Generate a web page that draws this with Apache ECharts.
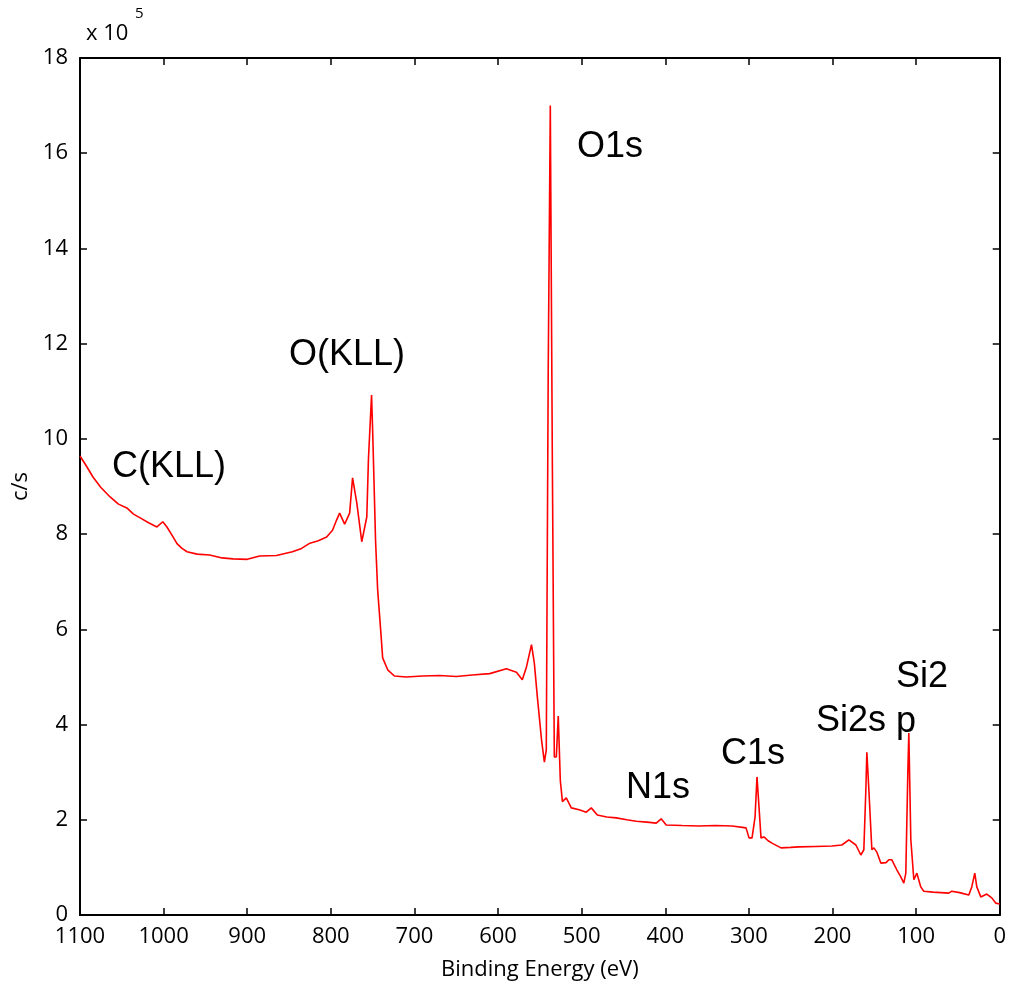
<!DOCTYPE html>
<html><head><meta charset="utf-8">
<script src="https://cdn.jsdelivr.net/npm/echarts@6/dist/echarts.min.js"></script>
<style>html,body{margin:0;padding:0;background:#fff}#c{width:1009px;height:990px}</style>
</head><body><div id="c"></div>
<script>
// Binding energy (eV)
var energy = [1100,1092,1084.5,1075,1064,1054,1044,1036,1028,1018,1008,1001,996,990,984,978,972,960,945,930,917,900,885,865,846,835,825,815,805,798,793,789.5,783.5,777.5,774,769,763,757,755,751.3,750,746.5,744,740.5,738,732,724,710,690,670,650,631,610,590,578,571,566,560,556.6,553,548,544.6,542.3,540,537.5,535,532.7,530.3,528,525.5,523,518.4,512.4,503,494.5,488.5,481.3,470,458.6,446,434.7,422,410.8,404.9,398.9,380,359.5,340,320,303.4,299.8,296.2,292.6,290.3,287.9,285.5,281.9,277,272.4,261.6,250,240,220,200.7,188.8,180.4,172,166.1,162.5,160.1,158.9,156.5,152.9,150.5,146.9,142.2,136,132.6,129,123.1,118.3,114.7,112.3,109.9,108.7,106.3,102.7,99.1,94.4,90.8,80,70,60.9,57.3,48,37,33.4,29.8,27.4,22.6,15.5,9.5,4.8,0];
// Intensity (c/s, x 10^5)
var counts = [9.64,9.42,9.2,8.98,8.78,8.63,8.55,8.42,8.34,8.24,8.15,8.26,8.15,7.98,7.8,7.7,7.63,7.58,7.56,7.5,7.48,7.47,7.54,7.55,7.63,7.7,7.81,7.86,7.94,8.08,8.3,8.44,8.21,8.44,9.18,8.66,7.84,8.36,9.58,10.92,10.19,7.86,6.83,6.01,5.4,5.15,5.02,5.0,5.02,5.03,5.01,5.04,5.07,5.17,5.1,4.94,5.21,5.68,5.29,4.58,3.68,3.21,3.47,11.43,17.0,9.39,3.32,3.32,4.18,2.82,2.38,2.46,2.25,2.21,2.16,2.25,2.1,2.06,2.04,2.0,1.97,1.95,1.93,2.02,1.89,1.88,1.87,1.88,1.87,1.83,1.62,1.62,2.06,2.9,2.27,1.62,1.64,1.56,1.51,1.41,1.42,1.43,1.44,1.45,1.47,1.58,1.47,1.26,1.37,2.63,3.42,2.63,1.37,1.41,1.32,1.09,1.1,1.16,1.16,0.95,0.8,0.67,0.88,2.98,3.82,1.58,0.74,0.88,0.59,0.5,0.48,0.47,0.46,0.5,0.47,0.42,0.59,0.88,0.59,0.38,0.44,0.36,0.25,0.23];
var xTicks = [0,100,200,300,400,500,600,700,800,900,1000,1100];
var yTicks = [0,2,4,6,8,10,12,14,16,18];
var peakLabels = ['C(KLL)','O(KLL)','O1s','N1s','C1s','Si2s','Si2','p'];

var pts = energy.map(function(e,i){return [e,counts[i]];});
var chart = echarts.init(document.getElementById('c'));
var axisFont = {fontFamily:'Open Sans', fontSize:22, color:'#000'};
var lineStyle = {color:'#000', width:2};
var tick = {show:true, inside:true, length:7, lineStyle:{color:'#000',width:1.5}};
var labPos = [[112,449],[289,337],[577,129],[626,770],[721,736],[816,703],[896,659],[896,704]];
chart.setOption({
  animation:false,
  grid:{left:80,right:8,top:58,bottom:75},
  xAxis:[{
    type:'value', inverse:true, min:0, max:1100, interval:100,
    name:'Binding Energy (eV)', nameLocation:'middle', nameGap:44,
    nameTextStyle:{fontFamily:'Open Sans', fontSize:22, color:'#000'},
    axisLine:{show:true, onZero:false, lineStyle:lineStyle}, axisTick:tick,
    axisLabel:Object.assign({margin:11, formatter:function(v){return String(v);}}, axisFont), splitLine:{show:false}
  },{
    type:'value', inverse:true, min:0, max:1100, interval:100, position:'top',
    axisLine:{show:true, onZero:false, lineStyle:lineStyle}, axisTick:tick,
    axisLabel:{show:false}, splitLine:{show:false}
  }],
  yAxis:[{
    type:'value', min:0, max:18, interval:2, position:'left',
    name:'c/s', nameLocation:'middle', nameGap:44,
    nameTextStyle:{fontFamily:'Open Sans', fontSize:22, color:'#000'},
    axisLine:{show:true, onZero:false, lineStyle:lineStyle}, axisTick:tick,
    axisLabel:Object.assign({margin:12}, axisFont), splitLine:{show:false}
  },{
    type:'value', min:0, max:18, interval:2, position:'right',
    axisLine:{show:true, onZero:false, lineStyle:lineStyle}, axisTick:tick,
    axisLabel:{show:false}, splitLine:{show:false}
  }],
  series:[{
    type:'line', data:pts, showSymbol:false, symbol:'none',
    lineStyle:{color:'#ff0000', width:1.6}, xAxisIndex:0, yAxisIndex:0
  }],
  graphic:[
    {type:'text', left:86, top:23, style:{text:'x 10', font:'22px "Open Sans"', fill:'#000'}},
    {type:'text', left:135, top:6, style:{text:'5', font:'15px "Open Sans"', fill:'#000'}}
  ].concat(peakLabels.map(function(t,i){
    return {type:'text', left:labPos[i][0], top:labPos[i][1], style:{text:t, font:'36px "Liberation Sans"', fill:'#000'}};
  }))
});
</script></body></html>
